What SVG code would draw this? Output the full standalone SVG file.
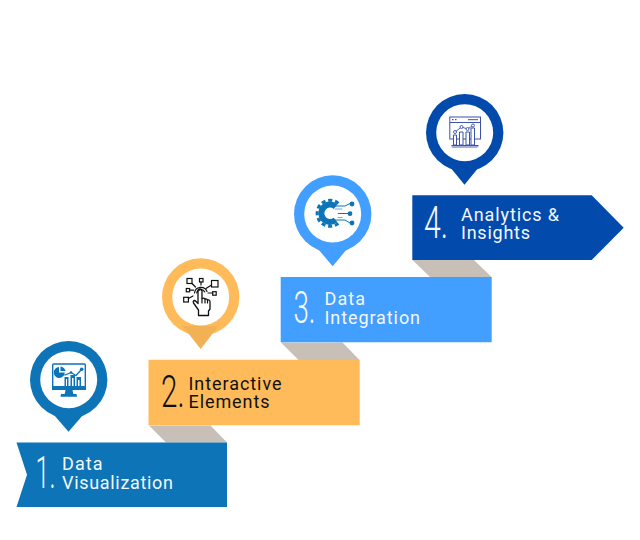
<svg xmlns="http://www.w3.org/2000/svg" width="640" height="540" viewBox="0 0 640 540">
<style>
.lbl{font-family:"Roboto","Liberation Sans",sans-serif;font-size:18px;font-weight:400}
.num{font-family:"Roboto","Liberation Sans",sans-serif;font-size:44px;font-weight:300}
.w{fill:#f4f8fc}.k{fill:#111}
.fold{fill:#c8bfb6}
.ln{fill:none;stroke-linecap:round;stroke-linejoin:round}
</style>
<rect width="640" height="540" fill="#fff"/>
<g id="connectors">
<polygon class="fold" points="149,425.500 210.500,425.500 227,442.500 166,442.500"/>
<polygon class="fold" points="281,342.500 342.500,342.500 359.500,360 298.500,360"/>
<polygon class="fold" points="412.500,260 474,260 491.500,277 430,277"/>
</g>
<g id="step-1">
<polygon fill="#0d74b8" points="16.500,442.500 227,442.500 227,507 16.500,507 27,474.700"/>
<path fill="#0d74b8" d="M68.500 431.700 L54 415 H83 Z"/>
<circle cx="68.700" cy="379.700" r="38.700" fill="#0d74b8"/>
<circle cx="68.700" cy="379.700" r="28.500" fill="#fff"/>
<g id="icon-1">
<rect x="52.700" y="364" width="32.600" height="25" rx="1" fill="none" stroke="#0d74b8" stroke-width="1.400"/>
<rect x="52" y="386" width="34" height="4" fill="#0d74b8"/>
<path fill="#0d74b8" d="M64.800 372.500 A5.500 5.500 0 1 1 59 367 V372.500 Z"/>
<path fill="#0d74b8" d="M60.500 366.500 A6 6 0 0 1 65.500 371 H60.500 Z"/>
<path fill="#0d74b8" d="M64.500 377h4v9h-4zM70.500 375h4.500v11h-4.500zM76.500 377h4.500v9h-4.500z"/>
<path fill="#fff" d="M66 379h1v7h-1zM72 378h1.500v8h-1.500zM78 380h1.500v6h-1.500z"/>
<path class="ln" stroke="#0d74b8" stroke-width="1.300" d="M65 375 L71 372.500 L76 375.500 L81.700 369.300"/>
<circle cx="81.700" cy="369.300" r="1.800" fill="#0d74b8"/>
<circle cx="71" cy="372.500" r="1.300" fill="#0d74b8"/>
<path fill="#0d74b8" d="M65.500 390h7l.8 4h-8.600z"/>
<path fill="#0d74b8" d="M61 394h15.500l.5 2.800h-16.500z"/>
</g>
<text class="lbl w" x="62" y="469.500" textLength="40.500" lengthAdjust="spacing">Data</text>
<text class="lbl w" x="62" y="488.900" textLength="111" lengthAdjust="spacing">Visualization</text>
<text class="num w" x="35.500" y="487.700" textLength="20" lengthAdjust="spacingAndGlyphs">1.</text>
</g>
<g id="step-2">
<polygon fill="#ffbb5a" points="148.500,359.700 359.700,359.700 359.700,425.300 148.500,425.300"/>
<circle cx="200.700" cy="297" r="38.700" fill="#ffbb5a"/>
<path fill="#f2b155" d="M182.500 326 H218.500 L200.700 349 Z"/>
<circle cx="200.700" cy="297" r="28.500" fill="#fff"/>
<g id="icon-2" fill="none" stroke="#111" stroke-width="1.200">
<rect x="187" y="278.500" width="5" height="5"/>
<rect x="199.500" y="278.500" width="3.500" height="3.500"/>
<rect x="211.500" y="280.500" width="6.500" height="6.500"/>
<rect x="186.300" y="288.500" width="3.300" height="3.300"/>
<rect x="212.700" y="291.700" width="3.500" height="3.500"/>
<rect x="183.700" y="297.300" width="4.700" height="4.700"/>
<path class="ln" d="M192 283.500L195.500 287M201 282V285M211.500 285L206 288.500M189.600 290.200H193.500M212.700 293H208M188.400 298.500L193 296"/>
<path class="ln" d="M194.500 293A6.500 6.500 0 0 1 207 291.500M196.700 293A4.300 4.300 0 0 1 204.800 292"/>
<path class="ln" stroke-width="1.300" d="M198.500 315.500V310L193.500 303Q192.500 300.500 195 300.500L198 303.500V291.500Q198 289 200 289Q202 289 202 291.500V298.500Q204 297.500 205 299Q207 298.500 207.500 300Q210 299.500 210 302V309L208.500 311V315.500Z"/>
<path class="ln" d="M202 298.500V303M205 299V303M207.500 300V303"/>
</g>
<text class="lbl k" x="188.500" y="390" textLength="93" lengthAdjust="spacing">Interactive</text>
<text class="lbl k" x="188.500" y="408" textLength="81" lengthAdjust="spacing">Elements</text>
<text class="num k" x="161" y="406.700" textLength="23.500" lengthAdjust="spacingAndGlyphs">2.</text>
</g>
<g id="step-3">
<polygon fill="#429eff" points="280.700,277 491.700,277 491.700,342.300 280.700,342.300"/>
<path fill="#429eff" d="M332.700 266.300 L318 249 H347 Z"/>
<circle cx="332.700" cy="214" r="38.700" fill="#429eff"/>
<circle cx="332.700" cy="214" r="28.500" fill="#fff"/>
<g id="icon-3">
<path fill="none" stroke="#0d74b8" stroke-width="6" d="M335.600 206.600 A8.700 8.700 0 1 0 335.600 220"/>
<path fill="none" stroke="#0d74b8" stroke-width="3" stroke-dasharray="4 2.800" d="M338.400 203.300 A13 13 0 1 0 338.400 223.300"/>
<path class="ln" stroke="#0d74b8" stroke-width="1" d="M335 206H345L350 203.500M338.300 213.500H350M335 220H345L350 223"/>
<path class="ln" stroke="#6fa9d6" stroke-width="1" d="M335 209H342M338 217.500H342"/>
<circle cx="352" cy="204" r="2.400" fill="#0d74b8"/>
<circle cx="350" cy="213.700" r="2.400" fill="#0d74b8"/>
<circle cx="352" cy="223" r="2.400" fill="#0d74b8"/>
</g>
<text class="lbl w" x="324.500" y="305" textLength="40.500" lengthAdjust="spacing">Data</text>
<text class="lbl w" x="324.500" y="324" textLength="95.500" lengthAdjust="spacing">Integration</text>
<text class="num w" x="293.500" y="323.300" textLength="22" lengthAdjust="spacingAndGlyphs">3.</text>
</g>
<g id="step-4">
<polygon fill="#034aad" points="412.300,195.300 591.700,195.300 623.700,227.700 591.700,260 412.300,260"/>
<path fill="#034aad" d="M464.500 184.700 L450 167 H479 Z"/>
<circle cx="464.700" cy="132.700" r="38.700" fill="#034aad"/>
<circle cx="464.700" cy="132.700" r="28.500" fill="#fff"/>
<g id="icon-4">
<rect x="449.800" y="117" width="30.700" height="22" fill="none" stroke="#3d52ad" stroke-width="1"/>
<path stroke="#3d52ad" stroke-width="1" d="M450 122.500H480"/>
<path stroke="#3d52ad" stroke-width="1.200" stroke-dasharray="1.500 1.500" d="M452 119.700H458"/>
<path stroke="#3d52ad" stroke-width="1" d="M468 119.700H478"/>
<path fill="#fff" stroke="#3d52ad" stroke-width="1" d="M453.500 135h3v10h-3zM459.500 132h3.500v13h-3.500zM466 132h3.500v13h-3.500zM471 128h3.500v17h-3.500z"/>
<path class="ln" stroke="#3d52ad" stroke-width=".9" d="M455 132L461.500 127L467.500 129L473 125.500"/>
<circle cx="455" cy="132" r="1.500" fill="#fff" stroke="#3d52ad" stroke-width=".9"/>
<circle cx="461.500" cy="127" r="1.500" fill="#fff" stroke="#3d52ad" stroke-width=".9"/>
<circle cx="467.500" cy="129" r="1.500" fill="#fff" stroke="#3d52ad" stroke-width=".9"/>
<circle cx="473" cy="125.500" r="1.500" fill="#fff" stroke="#3d52ad" stroke-width=".9"/>
<rect x="451.500" y="145" width="27" height="1.500" fill="#3d52ad"/>
<rect x="452" y="146.500" width="25.500" height="1.500" fill="#a7b2da"/>
</g>
<text class="lbl w" x="461" y="220.800" textLength="98" lengthAdjust="spacing">Analytics &amp;</text>
<text class="lbl w" x="461" y="239" textLength="69" lengthAdjust="spacing">Insights</text>
<text class="num w" x="424" y="238.300" textLength="24" lengthAdjust="spacingAndGlyphs">4.</text>
</g>
</svg>
